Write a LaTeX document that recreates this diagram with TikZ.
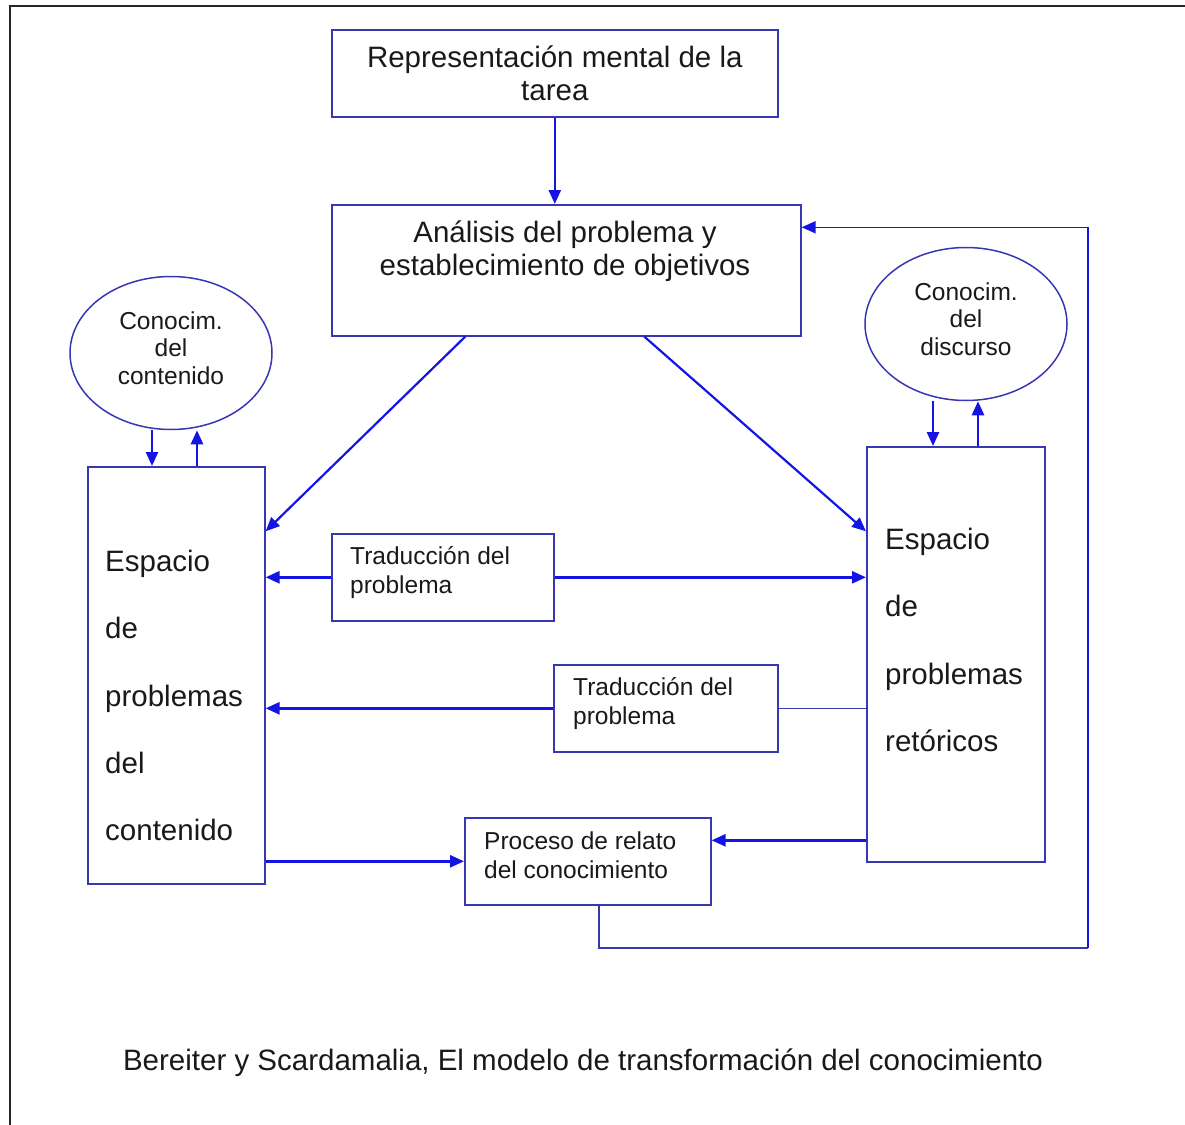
\documentclass[tikz,border=0pt]{standalone}
\usepackage{fontspec}
\setmainfont{Liberation Sans}
\usepackage{xcolor}
\usepackage{tikz}
\usetikzlibrary{arrows.meta,shapes.geometric}
\definecolor{azulcaja}{RGB}{55,55,180}
\definecolor{azulflecha}{RGB}{20,20,228}
\definecolor{gristexto}{RGB}{25,25,25}
\newcommand{\grande}{\fontsize{29.5}{33}\selectfont}
\newcommand{\grandeesp}{\fontsize{29.5}{67.3}\selectfont}
\newcommand{\chica}{\fontsize{24.5}{29}\selectfont}
\newcommand{\chicaelip}{\fontsize{24.5}{27.5}\selectfont}
\tikzstyle{every node}=[text=gristexto]
\tikzstyle{caja}=[draw=azulcaja,line width=1.6pt,rectangle,anchor=north west,inner sep=0pt]
\tikzstyle{texto}=[inner sep=0pt]
\tikzstyle{cajatxt}=[texto,anchor=west,align=left,font=\chica]
\tikzstyle{elipse}=[draw=azulcaja,line width=1.5pt,ellipse,minimum width=202pt,minimum height=153pt,inner sep=0pt]
\tikzstyle{elipsetxt}=[texto,align=center,font=\chicaelip]
\tikzstyle{flecha}=[draw=azulflecha,line width=2.6pt,-{Triangle[length=14pt,width=12pt]}]
\tikzstyle{linea}=[draw=azulcaja,line width=1.6pt]
\tikzstyle{marco}=[draw=black!85,line width=2pt]

\begin{document}
\begin{tikzpicture}[x=1pt,y=-1pt]
    \useasboundingbox (0,0) rectangle (1185,1124);
    % marco de la figura
    \draw[marco] (1195,6) -| (10,1135);

    % cajas de arriba
    \node[caja,minimum width=446pt,minimum height=87pt,align=center,font=\grande] (tarea) at (331,29)
        {Representación mental de la\\tarea};
    \node[caja,minimum width=469pt,minimum height=131pt] (analisis) at (331,204) {};
    \node[texto,anchor=north,align=center,font=\grande] (analisistxt) at (565,221)
        {Análisis del problema y\\establecimiento de objetivos};

    % conocimientos
    \node[elipse] (concont) at (171,353) {};
    \node[elipsetxt] (concontxt) at ([yshift=5pt]concont.center) {Conocim.\\del\\contenido};
    \node[elipse] (condisc) at (966,324) {};
    \node[elipsetxt] (condisctxt) at ([yshift=5pt]condisc.center) {Conocim.\\del\\discurso};

    % espacios de problemas
    \node[caja,minimum width=177pt,minimum height=417pt] (espcont) at (87,466) {};
    \node[texto,anchor=north west,align=left,font=\grandeesp] (espconttxt) at (105,550)
        {Espacio\\de\\problemas\\del\\contenido};
    \node[caja,minimum width=178pt,minimum height=415pt] (espret) at (866,446) {};
    \node[texto,anchor=north west,align=left,font=\grandeesp] (esprettxt) at (885,528)
        {Espacio\\de\\problemas\\retóricos};

    % procesos
    \node[caja,minimum width=222pt,minimum height=87pt] (tradprim) at (331,533) {};
    \node[cajatxt] (tradprimtxt) at ([xshift=19pt,yshift=5pt]tradprim.west) {Traducción del\\problema};
    \node[caja,minimum width=224pt,minimum height=87pt] (tradseg) at (553,664) {};
    \node[cajatxt] (tradsegtxt) at ([xshift=20pt,yshift=5pt]tradseg.west) {Traducción del\\problema};
    \node[caja,minimum width=246pt,minimum height=87pt] (relato) at (464,817) {};
    \node[cajatxt] (relatotxt) at ([xshift=20pt,yshift=6pt]relato.west) {Proceso de relato\\del conocimiento};

    % pie
    \node[texto,font=\grande] (pie) at (583,1063)
        {Bereiter y Scardamalia, El modelo de transformación del conocimiento};

    % flechas
    \draw[flecha] (tarea.south) -- (tarea.south |- analisis.north);
    \draw[flecha,line width=2.2pt] ([xshift=-101pt]analisis.south) -- ([yshift=144pt]espcont.east);
    \draw[flecha,line width=2.2pt] ([xshift=78pt]analisis.south) -- ([yshift=123pt]espret.west);

    \draw[flecha] ([xshift=-19pt]concont.south) -- ([xshift=-19pt]concont.south |- espcont.north);
    \draw[flecha] ([xshift=26pt]concont.south |- espcont.north) -- ([xshift=26pt]concont.south);
    \draw[flecha] ([xshift=-33pt]condisc.south) -- ([xshift=-33pt]condisc.south |- espret.north);
    \draw[flecha] ([xshift=12pt]condisc.south |- espret.north) -- ([xshift=12pt]condisc.south);

    \draw[flecha] (tradprim.west) -- (tradprim.west -| espcont.east);
    \draw[flecha] (tradprim.east) -- (tradprim.east -| espret.west);
    \draw[linea] (espret.west |- tradseg.east) -- (tradseg.east);
    \draw[flecha] (tradseg.west) -- (tradseg.west -| espcont.east);

    \draw[flecha] ([yshift=21pt]relato.east -| espret.west) -- ([yshift=21pt]relato.east);
    \draw[flecha] (relato.west -| espcont.east) -- (relato.west);

    % vuelta al analisis
    \coordinate (vuelta) at (1088,948);
    \draw[linea] ([xshift=11pt]relato.south) |- (vuelta);
    \draw[flecha,line width=1.6pt] (vuelta) |- ([yshift=43pt]analisis.east);
\end{tikzpicture}
\end{document}
